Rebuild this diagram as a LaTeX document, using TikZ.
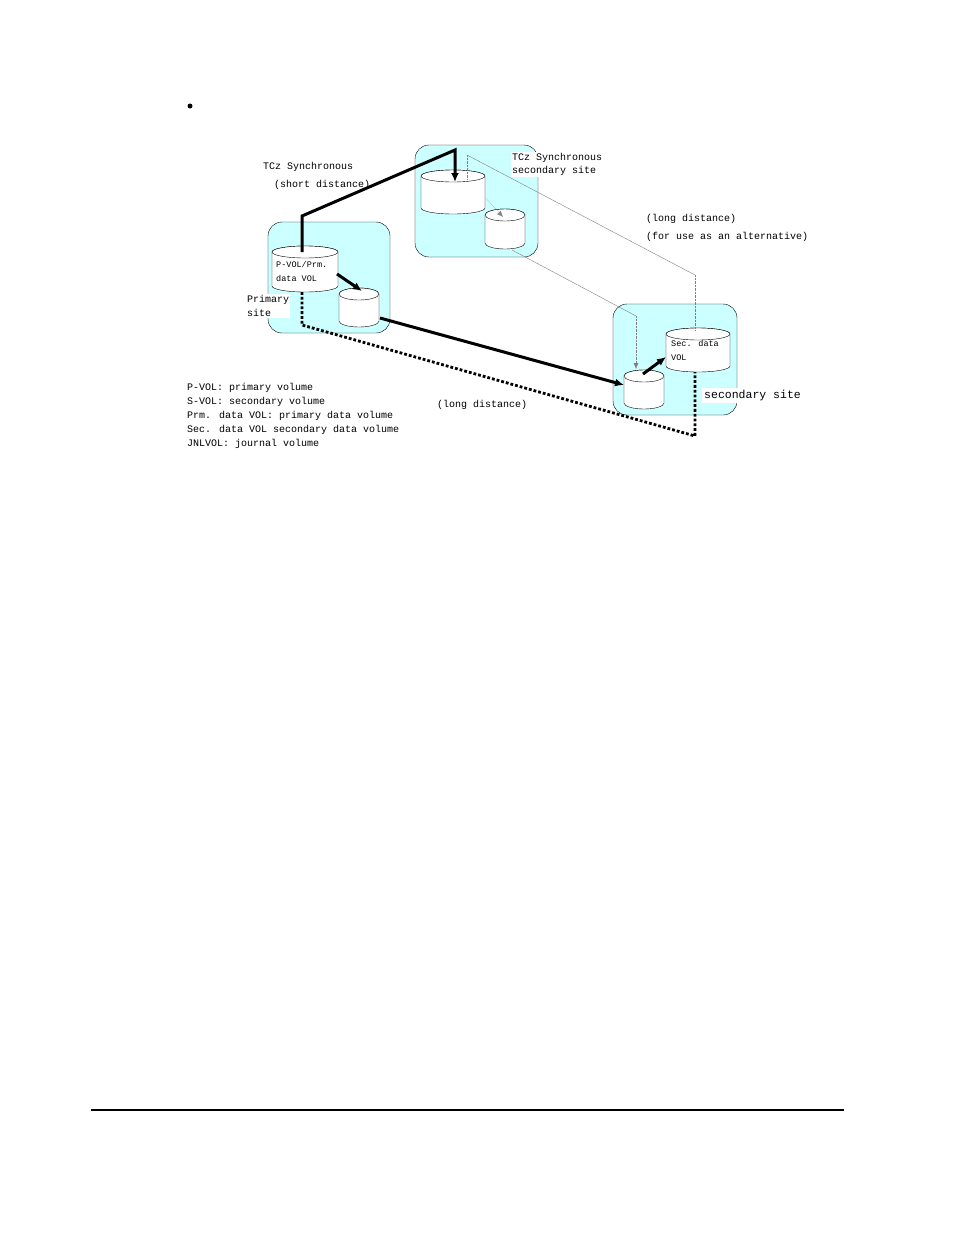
\documentclass[tikz,border=0pt]{standalone}
\usepackage{fontspec}
\setmainfont{Liberation Mono}
\usetikzlibrary{arrows.meta}

\definecolor{sitecyan}{HTML}{CCFFFF}

% cylinder: #1 centre x, #2 top y, #3 half width, #4 height
\newcommand{\drum}[4]{%
  \draw [fill=white] (#1-#3,#2) -- (#1-#3,#2+#4)
    arc [start angle=180, end angle=0, x radius=#3, y radius=6]
    -- (#1+#3,#2) arc [start angle=0, end angle=-180, x radius=#3, y radius=6];
  \draw [fill=white] (#1,#2) ellipse [x radius=#3, y radius=6];
}

\begin{document}
\begin{tikzpicture}[
  x=1pt, y=-1pt,
  site/.style={draw, fill=sitecyan, rounded corners=14pt},
  lbl/.style={anchor=north west, inner sep=1pt, font=\fontsize{10}{13}\selectfont},
  wlbl/.style={lbl, fill=white, align=left},
  vlbl/.style={anchor=north west, inner sep=0pt, align=left, font=\fontsize{8.5}{14}\selectfont},
  copy/.style={line width=3pt, -{Latex[length=9pt,width=8pt]}},
  alt/.style={gray, densely dotted, -{Latex[length=6pt,width=5pt]}},
]
\useasboundingbox (0,0) rectangle (954,1235);

\fill (190,106) circle [radius=2.5];

% sites
\draw [site] (268,222) rectangle (390,333);
\draw [site] (415,145) rectangle (538,257);
\draw [site] (613,304) rectangle (737,415);

% volumes
\drum{305}{252}{33}{34}
\drum{359}{294}{20}{27}
\drum{453}{176}{32}{32}
\drum{505}{215}{20}{28}
\drum{698}{334}{32}{32}
\drum{644}{376}{20}{27}

\node [vlbl] (pvol) at (276,261) {P-VOL/Prm.\\data VOL};
\node [vlbl] (svol) at (671,340) {Sec. data\\VOL};

% named points
\coordinate (pvolTop) at (302,252);
\coordinate (pvolBot) at (302,292);
\coordinate (tczTop) at (455,182);
\coordinate (secBot) at (695,372);
\coordinate (secTop) at (695,330);

% labels
\node [lbl] (tcz) at (262,161) {TCz Synchronous};
\node [lbl] (short) at (273,179) {(short distance)};
\node [wlbl] (tczsec) at (511,152) {TCz Synchronous\\secondary site};
\node [lbl] (long1) at (645,213) {(long distance)};
\node [lbl] (long2) at (645,231) {(for use as an alternative)};
\node [wlbl, font=\fontsize{10}{14}\selectfont] (prim) at (246,294) {Primary\\site};
\node [wlbl, font=\fontsize{11.5}{13}\selectfont, inner sep=2pt] (secsite) at (702,388) {secondary site};
\node [lbl] (long3) at (436,399) {(long distance)};
\node [lbl, align=left, font=\fontsize{10}{14}\selectfont] (legend) at (186,382)
  {P-VOL: primary volume\\S-VOL: secondary volume\\Prm. data VOL: primary data volume\\
   Sec. data VOL secondary data volume\\JNLVOL: journal volume};

% alternative paths
\draw [gray, densely dotted] (467,155) -- (467,180);
\draw [gray] (467,155) -- (695,275);
\draw [gray, densely dotted] (695,275) -- (secTop);
\draw [alt] (486,198) -- (503,217);
\draw [gray] (512,250) -- (636,316);
\draw [alt] (636,316) -- (636,369);

% copy paths
\draw [copy] (pvolTop) -- (302,216) -- (455,150) -- (tczTop);
\draw [copy] (337,274) -- (362,291);
\draw [copy] (380,318) -- (624,385);
\draw [copy] (643,374) -- (666,357);
\draw [line width=2.8pt, dotted] (pvolBot) -- (302,325) -- (695,436) -- (secBot);

\draw [line width=2.5pt] (91,1110) -- (844,1110);
\end{tikzpicture}
\end{document}
